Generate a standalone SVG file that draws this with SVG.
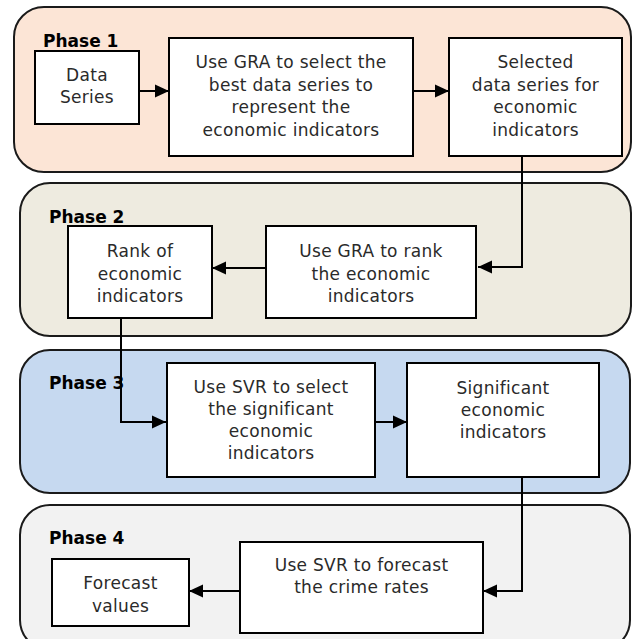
<svg xmlns="http://www.w3.org/2000/svg" width="633" height="639" viewBox="0 0 633 639">
<style>
.panel{stroke:#1a1a1a;stroke-width:2}
.box{fill:#fff;stroke:#000;stroke-width:2}
.ph{font-family:"DejaVu Sans",sans-serif;font-weight:bold;font-size:17px;fill:#000}
.t{font-family:"DejaVu Sans",sans-serif;font-size:17px;letter-spacing:0.3px;fill:#2a2a2a;text-anchor:middle}
.c{fill:none;stroke:#000;stroke-width:2}
</style>
<defs>
<marker id="ah" markerUnits="userSpaceOnUse" markerWidth="15" markerHeight="15" refX="14" refY="7.5" orient="auto">
<path d="M0,1 L14,7.5 L0,14 Z" fill="#000"/>
</marker>
</defs>
<g id="phase1">
<rect class="panel" x="14" y="7" width="617" height="165" rx="30" fill="#FCE5D6"/>
<text class="ph" x="43" y="47">Phase 1</text>
</g>
<g id="phase2">
<rect class="panel" x="20" y="183" width="611" height="153" rx="30" fill="#EEEBE0"/>
<text class="ph" x="49" y="223">Phase 2</text>
</g>
<g id="phase3">
<rect class="panel" x="20" y="350" width="610" height="143" rx="30" fill="#C6D9F0"/>
<text class="ph" x="49" y="389">Phase 3</text>
</g>
<g id="phase4">
<rect class="panel" x="20" y="505" width="610" height="145" rx="30" fill="#F2F2F2"/>
<text class="ph" x="49" y="544">Phase 4</text>
</g>
<g id="connectors">
<line class="c" x1="139" y1="91" x2="169" y2="91" marker-end="url(#ah)"/>
<line class="c" x1="413" y1="91" x2="449" y2="91" marker-end="url(#ah)"/>
<polyline class="c" points="522,156 522,267 478,267" marker-end="url(#ah)"/>
<line class="c" x1="266" y1="268" x2="212" y2="268" marker-end="url(#ah)"/>
<polyline class="c" points="121,318 121,422 166,422" marker-end="url(#ah)"/>
<line class="c" x1="375" y1="422" x2="407" y2="422" marker-end="url(#ah)"/>
<polyline class="c" points="522,477 522,591 483,591" marker-end="url(#ah)"/>
<line class="c" x1="240" y1="591" x2="189" y2="591" marker-end="url(#ah)"/>
</g>
<g id="data-series">
<rect class="box" x="35" y="51" width="104" height="73"/>
<text class="t" x="87" y="81">Data</text>
<text class="t" x="87" y="103">Series</text>
</g>
<g id="gra-select">
<rect class="box" x="169" y="38" width="244" height="118"/>
<text class="t" x="291" y="68">Use GRA to select the</text>
<text class="t" x="291" y="91">best data series to</text>
<text class="t" x="291" y="113">represent the</text>
<text class="t" x="291" y="136">economic indicators</text>
</g>
<g id="selected-series">
<rect class="box" x="449" y="38" width="173" height="118"/>
<text class="t" x="535.5" y="68">Selected</text>
<text class="t" x="535.5" y="91">data series for</text>
<text class="t" x="535.5" y="113">economic</text>
<text class="t" x="535.5" y="136">indicators</text>
</g>
<g id="gra-rank">
<rect class="box" x="266" y="226" width="210" height="92"/>
<text class="t" x="371" y="257">Use GRA to rank</text>
<text class="t" x="371" y="280">the economic</text>
<text class="t" x="371" y="302">indicators</text>
</g>
<g id="rank">
<rect class="box" x="68" y="226" width="144" height="92"/>
<text class="t" x="140" y="257">Rank of</text>
<text class="t" x="140" y="280">economic</text>
<text class="t" x="140" y="302">indicators</text>
</g>
<g id="svr-select">
<rect class="box" x="167" y="363" width="208" height="114"/>
<text class="t" x="271" y="393">Use SVR to select</text>
<text class="t" x="271" y="415">the significant</text>
<text class="t" x="271" y="437">economic</text>
<text class="t" x="271" y="459">indicators</text>
</g>
<g id="significant">
<rect class="box" x="407" y="363" width="192" height="114"/>
<text class="t" x="503" y="394">Significant</text>
<text class="t" x="503" y="416">economic</text>
<text class="t" x="503" y="438">indicators</text>
</g>
<g id="svr-forecast">
<rect class="box" x="240" y="542" width="243" height="91"/>
<text class="t" x="361.5" y="571">Use SVR to forecast</text>
<text class="t" x="361.5" y="593">the crime rates</text>
</g>
<g id="forecast-values">
<rect class="box" x="52" y="559" width="137" height="67"/>
<text class="t" x="120.5" y="589">Forecast</text>
<text class="t" x="120.5" y="612">values</text>
</g>
</svg>
